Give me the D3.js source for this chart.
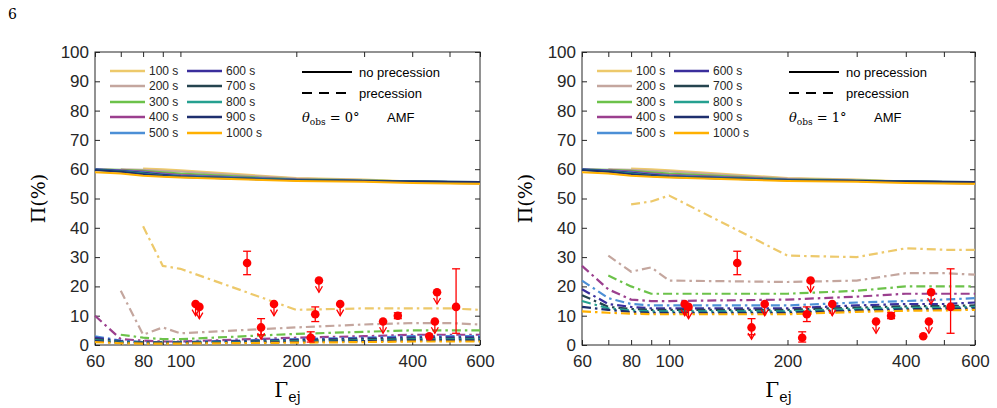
<!DOCTYPE html>
<html><head><meta charset="utf-8">
<script src="https://cdn.jsdelivr.net/npm/d3@7"></script>
<style>body{margin:0;background:#fff}text{font-family:"Liberation Sans",Arial,sans-serif}</style>
</head><body>
<svg width="997" height="408"></svg>
<script>
// Lorentz factor grid
var gammas = [60, 70, 80, 90, 100, 200, 300, 400, 500, 600];
var durations = ["100 s","200 s","300 s","400 s","500 s","600 s","700 s","800 s","900 s","1000 s"];
var colors = ["#EDC96B","#C4A69E","#6CC24A","#9B3F8E","#4C8FD6","#3A2E9C","#25444F","#25A090","#1E2F6E","#FFB000"];

// no precession (same in both panels)
var noPrec = [
  [null,null,60.2,60,59.6,57,56.5,55.8,55.3,55],
  [null,60,59.8,59.5,59.2,56.8,56.3,55.7,55.3,55],
  [60,59.8,59.5,59,58.5,56.6,56.2,55.8,55.6,55.5],
  [60,59.6,59.2,58.5,58,56.5,56.1,55.8,55.6,55.5],
  [60,59.5,59,58.3,57.8,56.4,56.1,55.8,55.6,55.5],
  [59.9,59.4,58.8,58.1,57.6,56.3,56,55.8,55.6,55.5],
  [59.8,59.3,58.6,57.9,57.5,56.3,56,55.8,55.6,55.6],
  [59.8,59.2,58.5,57.8,57.4,56.3,56,55.8,55.7,55.6],
  [59.7,59.1,58.3,57.7,57.3,56.2,56,55.8,55.7,55.6],
  [59,58.5,57.8,57.4,57.2,56,55.7,55.3,55.1,55]
];
// precession, theta_obs = 0 deg
var prec0 = [
  [null,null,40.5,27,26,12,12.5,12.5,12.5,12],
  [null,18.5,3.5,6,4,6,7,7.5,7.5,7],
  [null,3.5,2.5,2,2,3.8,4.5,5,5,5],
  [10,2,1.5,1.2,1.2,2.5,3,3.5,3.5,3.5],
  [3,1.5,1,1,1,2,2.5,3,3,3],
  [2.5,1.3,0.9,0.9,0.9,1.8,2.2,2.6,2.6,2.6],
  [2,1.1,0.8,0.8,0.8,1.5,1.9,2.2,2.2,2.2],
  [1.6,1,0.7,0.7,0.7,1.3,1.6,1.9,1.9,1.9],
  [1.3,0.8,0.6,0.6,0.6,1.1,1.3,1.6,1.6,1.6],
  [1,0.6,0.5,0.5,0.5,0.8,1,1.2,1.2,1.2]
];
// precession, theta_obs = 1 deg
var prec1 = [
  [null,null,48,49,51,30.5,30,33,32.5,32.5],
  [null,30.5,25,26.5,22,21.5,22,24.5,24.5,24],
  [null,23.7,20,17.5,17.5,17.5,18.5,20,20,20],
  [27,19,15.5,15,15,15.5,16.5,17.5,17.5,17.5],
  [22,16,14,13.5,13.5,13.5,14.5,15,15.5,16],
  [19,14,13,12.5,12.5,12.5,13.5,14,14,14.5],
  [17,13,12.3,12,12,12,12.8,13.2,13.3,13.5],
  [15,12.5,11.8,11.5,11.5,11.5,12.3,12.7,12.8,13],
  [13,12,11.3,11,11,11,11.8,12.2,12.3,12.5],
  [11.5,11,10.7,10.5,10.5,10.5,11.3,11.7,11.8,12]
];
// observations: Gamma, Pi, error low, error high, upper limit flag
var obsG   = [109.5, 112, 149, 162, 175, 218, 224, 229, 260, 336, 367, 443, 458, 464, 520];
var obsPi  = [14, 13, 28, 6, 14, 2.5, 10.5, 22, 14, 8, 10, 3, 8, 18, 13];
var obsLo  = [null, null, 24, 3.5, null, 1, 8, null, null, null, 9, null, null, null, 4];
var obsHi  = [null, null, 32, 9, null, 4.5, 13, null, null, null, 11, null, null, null, 26];
var obsUL  = [1, 1, 0, 1, 1, 0, 0, 1, 1, 1, 0, 0, 1, 1, 0];

var xTicks = [60, 80, 100, 200, 400, 600];
var xMinor = [70, 90, 300, 500];
var yTicks = d3.range(0, 101, 10);

var svg = d3.select("svg");
svg.append("text").attr("x", 8).attr("y", 19).text("6")
  .style("font-family", "DejaVu Serif, serif").style("font-size", "14px");

function panel(left, right, precData, theta) {
  var top = 52, bottom = 345;
  var x = d3.scaleLog().domain([60, 600]).range([left, right]);
  var y = d3.scaleLinear().domain([0, 100]).range([bottom, top]);
  var g = svg.append("g");

  // box
  g.append("rect").attr("x", left).attr("y", top).attr("width", right - left).attr("height", bottom - top)
    .attr("fill", "none").attr("stroke", "#262626").attr("stroke-width", 1);

  var ax = g.append("g").attr("transform", "translate(0," + bottom + ")")
    .call(d3.axisBottom(x).tickValues(xTicks).tickFormat(d3.format("d")).tickSizeInner(-5).tickSizeOuter(0).tickPadding(10));
  var axT = g.append("g").attr("transform", "translate(0," + top + ")")
    .call(d3.axisTop(x).tickValues(xTicks.concat(xMinor)).tickFormat("").tickSizeInner(-5).tickSizeOuter(0));
  var axM = g.append("g").attr("transform", "translate(0," + bottom + ")")
    .call(d3.axisBottom(x).tickValues(xMinor).tickFormat("").tickSizeInner(-5).tickSizeOuter(0));
  var ay = g.append("g").attr("transform", "translate(" + left + ",0)")
    .call(d3.axisLeft(y).tickValues(yTicks).tickSizeInner(-5).tickSizeOuter(0).tickPadding(6));
  var ayR = g.append("g").attr("transform", "translate(" + right + ",0)")
    .call(d3.axisRight(y).tickValues(yTicks).tickFormat("").tickSizeInner(-5).tickSizeOuter(0));
  [ax, axT, axM, ay, ayR].forEach(function(a) {
    a.select(".domain").remove();
    a.selectAll("line").attr("stroke", "#262626");
    a.selectAll("text").style("font-size", "17px").attr("fill", "#262626");
  });

  var line = d3.line().defined(function(d) { return d[1] != null; })
    .x(function(d) { return x(d[0]); }).y(function(d) { return y(d[1]); });

  precData.forEach(function(s, i) {
    g.append("path").datum(gammas.map(function(gm, j) { return [gm, s[j]]; }))
      .attr("d", line).attr("fill", "none").attr("stroke", colors[i]).attr("stroke-width", 2.2)
      .attr("stroke-dasharray", "9,4,2.5,4");
  });
  noPrec.forEach(function(s, i) {
    g.append("path").datum(gammas.map(function(gm, j) { return [gm, s[j]]; }))
      .attr("d", line).attr("fill", "none").attr("stroke", colors[i]).attr("stroke-width", 2);
  });

  // observations
  var red = "#F00";
  obsG.forEach(function(gm, i) {
    var cx = x(gm), cy = y(obsPi[i]);
    if (obsLo[i] != null) {
      g.append("line").attr("x1", cx).attr("x2", cx).attr("y1", y(obsLo[i])).attr("y2", y(obsHi[i])).attr("stroke", red).attr("stroke-width", 1.3);
      [obsLo[i], obsHi[i]].forEach(function(v) {
        g.append("line").attr("x1", cx - 4).attr("x2", cx + 4).attr("y1", y(v)).attr("y2", y(v)).attr("stroke", red).attr("stroke-width", 1.3);
      });
    }
    if (obsUL[i]) {
      var ye = y(obsPi[i] - 4);
      g.append("line").attr("x1", cx).attr("x2", cx).attr("y1", cy).attr("y2", ye).attr("stroke", red).attr("stroke-width", 1.3);
      g.append("path").attr("d", "M" + (cx - 3.5) + "," + (ye - 6) + "L" + cx + "," + ye + "L" + (cx + 3.5) + "," + (ye - 6))
        .attr("fill", "none").attr("stroke", red).attr("stroke-width", 1.3);
    }
    g.append("circle").attr("cx", cx).attr("cy", cy).attr("r", 4.3).attr("fill", red);
  });

  // legend
  var rows = [71, 86, 102, 117, 133];
  durations.forEach(function(d, i) {
    var col = Math.floor(i / 5), r = i % 5;
    var lx = left + 15 + col * 77;
    g.append("line").attr("x1", lx).attr("x2", lx + 35).attr("y1", rows[r]).attr("y2", rows[r])
      .attr("stroke", colors[i]).attr("stroke-width", 2.5);
    g.append("text").attr("x", lx + 39).attr("y", rows[r] + 4).text(d).style("font-size", "12px").attr("fill", "#262626");
  });
  var lx2 = left + 207;
  g.append("line").attr("x1", lx2).attr("x2", lx2 + 50).attr("y1", 72).attr("y2", 72).attr("stroke", "#000").attr("stroke-width", 2);
  g.append("text").attr("x", lx2 + 57).attr("y", 77).text("no precession").style("font-size", "13px");
  g.append("line").attr("x1", lx2).attr("x2", lx2 + 50).attr("y1", 93).attr("y2", 93).attr("stroke", "#000").attr("stroke-width", 2).attr("stroke-dasharray", "10,7");
  g.append("text").attr("x", lx2 + 57).attr("y", 98).text("precession").style("font-size", "13px");
  var th = g.append("text").attr("x", lx2).attr("y", 122).style("font-family", "DejaVu Serif, serif").style("font-size", "13px");
  th.append("tspan").text("θ").style("font-style", "italic");
  th.append("tspan").text("obs").attr("dy", 3).style("font-size", "9px");
  th.append("tspan").text(" = " + theta + "°").attr("dy", -3);
  g.append("text").attr("x", lx2 + 85).attr("y", 122).text("AMF").style("font-size", "13px");

  // axis labels
  var xl = g.append("text").attr("x", (left + right) / 2).attr("y", 397).attr("text-anchor", "middle")
    .style("font-family", "DejaVu Serif, serif").style("font-size", "20px");
  xl.append("tspan").text("Γ");
  xl.append("tspan").text("ej").attr("dy", 5).style("font-size", "14px");
  g.append("text").attr("transform", "translate(" + (left - 50) + "," + ((top + bottom) / 2) + ") rotate(-90)")
    .attr("text-anchor", "middle").text("Π(%)")
    .style("font-family", "DejaVu Serif, serif").style("font-size", "19px");
}

panel(95, 480, prec0, 0);
panel(582, 975, prec1, 1);
</script>
</body></html>
